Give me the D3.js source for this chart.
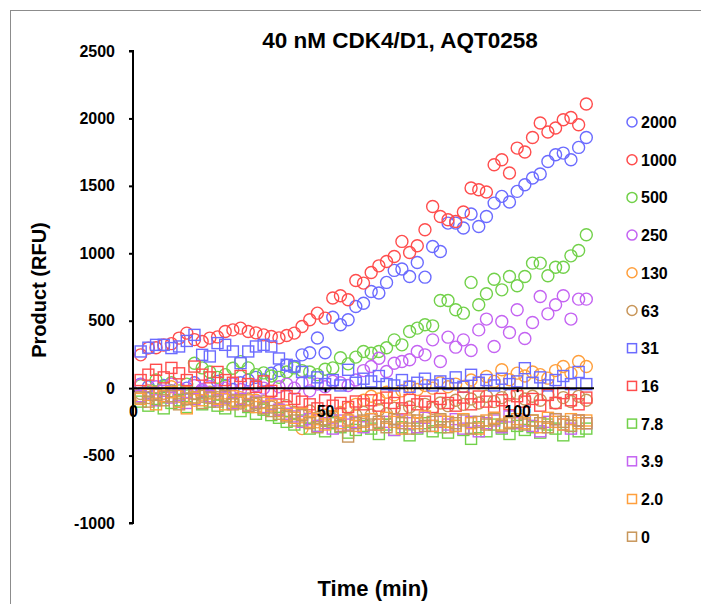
<!DOCTYPE html>
<html>
<head>
<meta charset="utf-8">
<script src="https://cdn.jsdelivr.net/npm/d3@7"></script>
<style>
  body { margin: 0; background: #fff; }
  svg text { font-family: "Liberation Sans", Arial, sans-serif; font-weight: bold; }
</style>
</head>
<body>
<div id="chart"></div>
<script>
// time points (min)
var times = [2,4,6,8,10,12,14,16,18,20,
  22,24,26,28,30,32,34,36,38,40,
  42,44,46,48,50,52,54,56,58,60,
  62,64,66,68,70,72,74,76,78,80,
  82,84,86,88,90,92,94,96,98,100,
  102,104,106,108,110,112,114,116,118];

// series, product (RFU)
var s2000 = [30,10,-40,20,-20,-99,0,40,-20,30,
  50,20,-10,40,60,80,60,110,130,170,
  160,247,262,372,262,526,470,507,605,630,
  717,705,784,873,883,828,932,823,1050,1013,
  1224,1224,1187,1291,1199,1273,1372,1422,1380,1459,
  1508,1558,1588,1681,1731,1743,1694,1785,1859];
var s1000 = [247,297,300,320,330,371,408,360,346,371,
  380,420,432,445,420,410,395,383,373,390,
  408,457,507,556,519,668,685,655,798,779,
  858,907,939,976,1088,1006,1056,1174,1347,1273,
  1249,1236,1306,1484,1471,1454,1657,1694,1595,1780,
  1751,1859,1966,1899,1929,1990,2007,1953,2107];
var s500 = [20,-30,60,10,40,-20,30,185,150,120,
  80,100,148,197,150,100,113,90,80,120,
  150,130,120,100,140,150,225,180,230,272,
  259,272,300,358,321,420,445,470,462,650,
  650,581,556,784,618,700,808,729,828,759,
  828,927,927,833,897,897,981,1021,1137];
var s250 = [25,-20,10,-40,30,0,-30,20,-10,10,
  -20,0,30,-10,-40,20,0,-30,10,30,
  0,40,-20,30,10,50,40,20,60,130,
  160,222,123,185,198,210,272,247,358,198,
  378,304,358,279,432,512,309,494,413,581,
  368,487,680,551,618,685,512,660,660];
var s130 = [-60,-20,-80,-40,10,-60,-30,-90,-50,-70,
  -40,-80,-100,-70,-120,-90,-140,-110,-150,-170,
  -190,-300,-220,-250,-200,-230,-180,-150,-120,-90,
  -60,-80,-30,-50,-20,10,-10,20,0,40,
  10,30,12,60,40,86,50,136,62,111,
  90,120,100,74,130,160,111,198,160];
var s63 = [-40,-70,-30,-60,-20,-50,-80,-40,-60,-30,
  -70,-50,-90,-110,-80,-120,-100,-140,-160,-130,
  -180,-200,-170,-220,-240,-210,-190,-230,-200,-180,
  -200,-160,-190,-150,-170,-140,-180,-120,-150,-110,
  -130,-90,-120,-80,-110,-60,-100,-70,-50,-37,
  -80,-60,-90,-50,-110,-70,-99,-60,-90];
var s31 = [272,300,321,321,297,309,350,395,247,235,
  334,321,272,185,272,309,321,309,220,173,
  160,120,49,80,30,60,20,136,40,70,
  50,90,30,20,60,10,40,70,20,50,
  30,80,10,99,40,60,20,70,30,50,
  148,40,80,20,60,90,30,120,30];
var s16 = [60,100,136,80,150,110,60,160,100,80,
  120,60,40,90,30,10,50,-20,-40,-60,
  -80,-100,-120,-150,-90,-130,-110,-140,-99,-120,
  -90,-130,-70,-110,-150,-87,-120,-100,-140,-80,
  -110,-130,-70,-120,-62,-100,-140,-90,-120,-60,
  -100,-80,-130,-50,-110,-37,-90,-120,-70];
var s7_8 = [-100,-130,-80,-150,-110,-90,-140,-70,-120,-100,
  -130,-150,-110,-170,-140,-190,-160,-200,-220,-250,
  -270,-240,-300,-280,-320,-260,-290,-330,-310,-280,
  -300,-340,-270,-310,-290,-350,-300,-260,-320,-290,
  -330,-280,-310,-376,-290,-320,-270,-300,-340,-280,
  -310,-290,-330,-270,-300,-350,-280,-320,-300];
var s3_9 = [-60,-40,-90,-20,-70,-50,-110,-80,-30,-60,
  -90,-70,-110,-80,-130,-100,-140,-120,-160,-190,
  -210,-250,-230,-280,-260,-300,-240,-270,-250,-290,
  -230,-270,-250,-310,-240,-260,-290,-220,-280,-250,
  -270,-230,-300,-250,-320,-260,-240,-290,-210,-260,
  -240,-280,-320,-250,-230,-270,-300,-240,-260];
var s2_0 = [-80,-50,-120,-60,-30,-100,-150,-70,-90,-40,
  -80,-120,-60,-100,-90,-140,-110,-130,-170,-200,
  -220,-190,-250,-230,-270,-210,-260,-240,-280,-250,
  -230,-270,-220,-250,-300,-240,-260,-210,-280,-240,
  -250,-280,-230,-260,-300,-240,-220,-270,-250,-230,
  -260,-240,-290,-220,-250,-270,-230,-260,-240];
var s0 = [-70,-100,-50,-90,-60,-120,-80,-40,-110,-70,
  -100,-60,-120,-90,-130,-110,-150,-170,-190,-210,
  -240,-200,-260,-290,-230,-250,-280,-359,-260,-240,
  -270,-250,-290,-230,-260,-300,-240,-280,-250,-230,
  -290,-260,-240,-300,-250,-270,-230,-280,-260,-250,
  -270,-240,-260,-290,-230,-250,-280,-240,-260];

var labels = ["2000","1000","500","250","130","63","31","16","7.8","3.9","2.0","0"];
var values = [s2000,s1000,s500,s250,s130,s63,s31,s16,s7_8,s3_9,s2_0,s0];
var shapes = ["circle","circle","circle","circle","circle","circle",
  "square","square","square","square","square","square"];
var palette = ["#6b6bff","#ff4d4d","#72d14a","#c463f2","#ff9f3c","#c8965a"];

var yTicks = [-1000,-500,0,500,1000,1500,2000,2500];
var xTicks = [0,50,100];

var width = 701, height = 604;
var svg = d3.select("#chart").append("svg")
  .attr("width", width)
  .attr("height", height);

// chart frame
svg.append("rect")
  .attr("x", 10.5).attr("y", 10.5)
  .attr("width", 720).attr("height", 620)
  .attr("fill", "none")
  .attr("stroke", "#8c8c8c");

var x = d3.scaleLinear().domain([0, 120]).range([133, 594]);
var y = d3.scaleLinear().domain([-1000, 2500]).range([523, 51]);

// title
svg.append("text")
  .attr("x", 400).attr("y", 48)
  .attr("text-anchor", "middle")
  .style("font-size", "22.5px")
  .text("40 nM CDK4/D1, AQT0258");

// markers, drawn series by series like the workbook does
values.forEach(function(vals, k) {
  var col = palette[k % 6];
  var g = svg.append("g").attr("class", "series");
  var pts = times.map(function(t, i) { return {t: t, v: vals[i]}; });
  if (shapes[k] === "circle") {
    g.selectAll("circle").data(pts).enter().append("circle")
      .attr("cx", function(d) { return x(d.t); })
      .attr("cy", function(d) { return y(d.v); })
      .attr("r", 6)
      .attr("fill", "none")
      .attr("stroke", col)
      .attr("stroke-width", 1.4);
  } else {
    g.selectAll("rect").data(pts).enter().append("rect")
      .attr("x", function(d) { return x(d.t) - 5.5; })
      .attr("y", function(d) { return y(d.v) - 5.5; })
      .attr("width", 11).attr("height", 11)
      .attr("fill", "none")
      .attr("stroke", col)
      .attr("stroke-width", 1.4);
  }
});

var fmt = function(d) { return String(d); };

// y axis
var yAxis = svg.append("g")
  .attr("transform", "translate(" + x(0) + ",0)")
  .call(d3.axisLeft(y).tickValues(yTicks).tickFormat(fmt).tickSize(4).tickPadding(14));
yAxis.select(".domain").attr("stroke-width", 2).attr("d", "M-4," + y(2500) + "H0V" + y(-1000) + "H-4");
yAxis.selectAll(".tick line").attr("stroke-width", 2);
yAxis.selectAll("text").style("font-size", "16px").attr("fill", "#000");

// x axis sits on zero
var xAxis = svg.append("g")
  .attr("transform", "translate(0," + y(0) + ")")
  .call(d3.axisBottom(x).tickValues(xTicks).tickFormat(fmt).tickSize(4).tickPadding(13));
xAxis.select(".domain").attr("stroke-width", 2).attr("d", "M" + x(0) + ",0H" + x(120));
xAxis.selectAll(".tick line").attr("stroke-width", 2);
xAxis.selectAll("text").style("font-size", "16px").attr("fill", "#000");

// axis titles
svg.append("text")
  .attr("transform", "translate(46," + ((y(2500) + y(-1000)) / 2 + 3) + ") rotate(-90)")
  .attr("text-anchor", "middle")
  .style("font-size", "20px")
  .text("Product (RFU)");

svg.append("text")
  .attr("x", 373).attr("y", 596)
  .attr("text-anchor", "middle")
  .style("font-size", "22px")
  .text("Time (min)");

// legend
var legend = svg.append("g").attr("class", "legend");
labels.forEach(function(lab, k) {
  var ly = 122 + k * 37.7;
  var col = palette[k % 6];
  if (shapes[k] === "circle") {
    legend.append("circle")
      .attr("cx", 632).attr("cy", ly).attr("r", 5)
      .attr("fill", "none").attr("stroke", col).attr("stroke-width", 1.5);
  } else {
    legend.append("rect")
      .attr("x", 627.5).attr("y", ly - 4.5).attr("width", 9).attr("height", 9)
      .attr("fill", "none").attr("stroke", col).attr("stroke-width", 1.5);
  }
  legend.append("text")
    .attr("x", 641).attr("y", ly + 6)
    .style("font-size", "16px")
    .text(lab);
});
</script>
</body>
</html>
